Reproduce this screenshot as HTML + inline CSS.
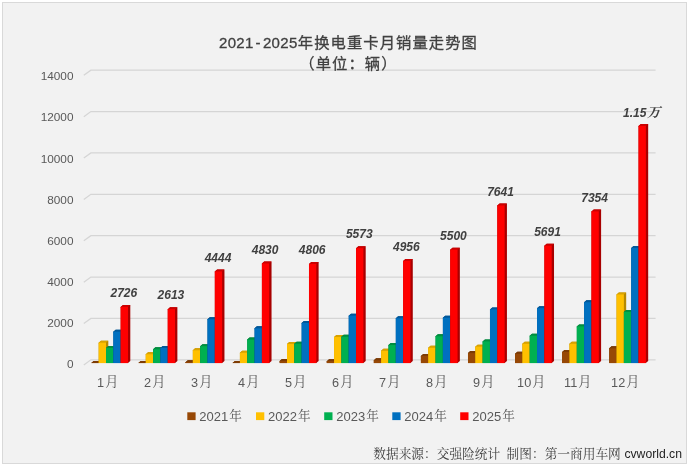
<!DOCTYPE html>
<html lang="zh"><head><meta charset="utf-8"><title>2021-2025年换电重卡月销量走势图</title>
<style>
html,body{margin:0;padding:0;background:#fff;}
svg{display:block;}
text{font-family:"Liberation Sans","Noto Sans CJK SC",sans-serif;}
.ax{font-size:11.8px;fill:#595959;}
.dl{font-size:12px;font-weight:bold;font-style:italic;fill:#404040;}
.wan{font-family:"Liberation Serif","Noto Serif CJK SC",serif;font-size:13.3px;}
.cat{font-size:12.7px;fill:#595959;}
.cjk{font-family:"Liberation Serif","Noto Serif CJK SC",serif;font-size:13.2px;}
.title{font-size:15.3px;fill:#404040;letter-spacing:1.07px;stroke:#404040;stroke-width:0.3px;}
.tl{font-size:15px;letter-spacing:0.3px;}
.leg{font-size:13px;fill:#595959;}
.cjk2{font-family:"Liberation Serif","Noto Serif CJK SC",serif;font-size:12.6px;}
.foot{font-family:"Liberation Serif","Noto Serif CJK SC",serif;font-size:12.7px;fill:#404040;}
.cv{font-family:"Liberation Sans",sans-serif;font-size:12.2px;fill:#1f1f1f;}
</style></head><body>
<svg width="689" height="466" viewBox="0 0 689 466">
<rect x="0" y="0" width="689" height="466" fill="#ffffff"/>
<rect x="2.5" y="2.5" width="684" height="461" fill="#f2f2f2" stroke="#d9d9d9" stroke-width="1"/>
<polyline points="83.8,364.90 90.9,359.80 655.6,359.80" fill="none" stroke="#d5d5d5" stroke-width="1.25"/>
<text x="73.5" y="368.38" text-anchor="end" class="ax">0</text>
<polyline points="83.8,323.53 90.9,318.43 655.6,318.43" fill="none" stroke="#d5d5d5" stroke-width="1.25"/>
<text x="73.5" y="327.23" text-anchor="end" class="ax">2000</text>
<polyline points="83.8,282.16 90.9,277.06 655.6,277.06" fill="none" stroke="#d5d5d5" stroke-width="1.25"/>
<text x="73.5" y="286.07" text-anchor="end" class="ax">4000</text>
<polyline points="83.8,240.79 90.9,235.69 655.6,235.69" fill="none" stroke="#d5d5d5" stroke-width="1.25"/>
<text x="73.5" y="244.92" text-anchor="end" class="ax">6000</text>
<polyline points="83.8,199.42 90.9,194.32 655.6,194.32" fill="none" stroke="#d5d5d5" stroke-width="1.25"/>
<text x="73.5" y="203.77" text-anchor="end" class="ax">8000</text>
<polyline points="83.8,158.05 90.9,152.95 655.6,152.95" fill="none" stroke="#d5d5d5" stroke-width="1.25"/>
<text x="73.5" y="162.62" text-anchor="end" class="ax">10000</text>
<polyline points="83.8,116.68 90.9,111.58 655.6,111.58" fill="none" stroke="#d5d5d5" stroke-width="1.25"/>
<text x="73.5" y="121.46" text-anchor="end" class="ax">12000</text>
<polyline points="83.8,75.31 90.9,70.21 655.6,70.21" fill="none" stroke="#d5d5d5" stroke-width="1.25"/>
<text x="73.5" y="80.31" text-anchor="end" class="ax">14000</text>
<polygon points="91.35,363.10 91.35,362.89 93.65,360.89 100.98,360.89 100.98,361.10 98.68,363.10" fill="#6b3304"/>
<polygon points="91.35,363.10 91.35,362.89 93.65,360.89 100.98,360.89 98.68,362.89 98.68,363.10" fill="#7c3b05"/>
<rect x="91.35" y="362.89" width="7.33" height="0.21" fill="#974806"/>
<polygon points="98.68,363.10 98.68,342.72 100.98,340.72 108.31,340.72 108.31,361.10 106.01,363.10" fill="#b58800"/>
<polygon points="98.68,343.52 98.68,342.72 100.98,340.72 108.31,340.72 106.01,342.72 106.01,343.52" fill="#d9a300"/>
<rect x="98.68" y="342.72" width="7.33" height="20.38" fill="#ffc000"/>
<polygon points="106.01,363.10 106.01,347.94 108.31,345.94 115.64,345.94 115.64,361.10 113.34,363.10" fill="#007d39"/>
<polygon points="106.01,348.74 106.01,347.94 108.31,345.94 115.64,345.94 113.34,347.94 113.34,348.74" fill="#008e40"/>
<rect x="106.01" y="347.94" width="7.33" height="15.16" fill="#00b050"/>
<polygon points="113.34,363.10 113.34,331.69 115.64,329.69 122.97,329.69 122.97,361.10 120.67,363.10" fill="#004f88"/>
<polygon points="113.34,332.49 113.34,331.69 115.64,329.69 122.97,329.69 120.67,331.69 120.67,332.49" fill="#00589a"/>
<rect x="113.34" y="331.69" width="7.33" height="31.41" fill="#0070c0"/>
<polygon points="120.67,363.10 120.67,306.88 122.97,304.88 130.30,304.88 130.30,361.10 128.00,363.10" fill="#a80000"/>
<polygon points="120.67,307.68 120.67,306.88 122.97,304.88 130.30,304.88 128.00,306.88 128.00,307.68" fill="#cc0000"/>
<rect x="120.67" y="306.88" width="7.33" height="56.22" fill="#ff0000"/>
<text x="123.83" y="297.08" text-anchor="middle" class="dl">2726</text>
<text x="97.10" y="387" class="cat">1<tspan class="cjk" dx="1.0" dy="-1.3">月</tspan></text>
<polygon points="138.43,363.10 138.43,362.89 140.73,360.89 148.06,360.89 148.06,361.10 145.76,363.10" fill="#6b3304"/>
<polygon points="138.43,363.10 138.43,362.89 140.73,360.89 148.06,360.89 145.76,362.89 145.76,363.10" fill="#7c3b05"/>
<rect x="138.43" y="362.89" width="7.33" height="0.21" fill="#974806"/>
<polygon points="145.76,363.10 145.76,354.27 148.06,352.27 155.39,352.27 155.39,361.10 153.09,363.10" fill="#b58800"/>
<polygon points="145.76,355.07 145.76,354.27 148.06,352.27 155.39,352.27 153.09,354.27 153.09,355.07" fill="#d9a300"/>
<rect x="145.76" y="354.27" width="7.33" height="8.83" fill="#ffc000"/>
<polygon points="153.09,363.10 153.09,349.34 155.39,347.34 162.72,347.34 162.72,361.10 160.42,363.10" fill="#007d39"/>
<polygon points="153.09,350.14 153.09,349.34 155.39,347.34 162.72,347.34 160.42,349.34 160.42,350.14" fill="#008e40"/>
<rect x="153.09" y="349.34" width="7.33" height="13.76" fill="#00b050"/>
<polygon points="160.42,363.10 160.42,347.94 162.72,345.94 170.05,345.94 170.05,361.10 167.75,363.10" fill="#004f88"/>
<polygon points="160.42,348.74 160.42,347.94 162.72,345.94 170.05,345.94 167.75,347.94 167.75,348.74" fill="#00589a"/>
<rect x="160.42" y="347.94" width="7.33" height="15.16" fill="#0070c0"/>
<polygon points="167.75,363.10 167.75,309.21 170.05,307.21 177.38,307.21 177.38,361.10 175.08,363.10" fill="#a80000"/>
<polygon points="167.75,310.01 167.75,309.21 170.05,307.21 177.38,307.21 175.08,309.21 175.08,310.01" fill="#cc0000"/>
<rect x="167.75" y="309.21" width="7.33" height="53.89" fill="#ff0000"/>
<text x="170.92" y="299.41" text-anchor="middle" class="dl">2613</text>
<text x="144.10" y="387" class="cat">2<tspan class="cjk" dx="1.0" dy="-1.3">月</tspan></text>
<polygon points="185.51,363.10 185.51,362.17 187.81,360.17 195.14,360.17 195.14,361.10 192.84,363.10" fill="#6b3304"/>
<polygon points="185.51,362.97 185.51,362.17 187.81,360.17 195.14,360.17 192.84,362.17 192.84,362.97" fill="#7c3b05"/>
<rect x="185.51" y="362.17" width="7.33" height="0.93" fill="#974806"/>
<polygon points="192.84,363.10 192.84,350.31 195.14,348.31 202.47,348.31 202.47,361.10 200.17,363.10" fill="#b58800"/>
<polygon points="192.84,351.11 192.84,350.31 195.14,348.31 202.47,348.31 200.17,350.31 200.17,351.11" fill="#d9a300"/>
<rect x="192.84" y="350.31" width="7.33" height="12.79" fill="#ffc000"/>
<polygon points="200.17,363.10 200.17,346.19 202.47,344.19 209.80,344.19 209.80,361.10 207.50,363.10" fill="#007d39"/>
<polygon points="200.17,346.99 200.17,346.19 202.47,344.19 209.80,344.19 207.50,346.19 207.50,346.99" fill="#008e40"/>
<rect x="200.17" y="346.19" width="7.33" height="16.91" fill="#00b050"/>
<polygon points="207.50,363.10 207.50,319.25 209.80,317.25 217.13,317.25 217.13,361.10 214.83,363.10" fill="#004f88"/>
<polygon points="207.50,320.05 207.50,319.25 209.80,317.25 217.13,317.25 214.83,319.25 214.83,320.05" fill="#00589a"/>
<rect x="207.50" y="319.25" width="7.33" height="43.85" fill="#0070c0"/>
<polygon points="214.83,363.10 214.83,271.44 217.13,269.44 224.46,269.44 224.46,361.10 222.16,363.10" fill="#a80000"/>
<polygon points="214.83,272.24 214.83,271.44 217.13,269.44 224.46,269.44 222.16,271.44 222.16,272.24" fill="#cc0000"/>
<rect x="214.83" y="271.44" width="7.33" height="91.66" fill="#ff0000"/>
<text x="218.00" y="261.64" text-anchor="middle" class="dl">4444</text>
<text x="191.10" y="387" class="cat">3<tspan class="cjk" dx="1.0" dy="-1.3">月</tspan></text>
<polygon points="232.59,363.10 232.59,362.89 234.89,360.89 242.22,360.89 242.22,361.10 239.92,363.10" fill="#6b3304"/>
<polygon points="232.59,363.10 232.59,362.89 234.89,360.89 242.22,360.89 239.92,362.89 239.92,363.10" fill="#7c3b05"/>
<rect x="232.59" y="362.89" width="7.33" height="0.21" fill="#974806"/>
<polygon points="239.92,363.10 239.92,352.79 242.22,350.79 249.55,350.79 249.55,361.10 247.25,363.10" fill="#b58800"/>
<polygon points="239.92,353.59 239.92,352.79 242.22,350.79 249.55,350.79 247.25,352.79 247.25,353.59" fill="#d9a300"/>
<rect x="239.92" y="352.79" width="7.33" height="10.31" fill="#ffc000"/>
<polygon points="247.25,363.10 247.25,339.59 249.55,337.59 256.88,337.59 256.88,361.10 254.58,363.10" fill="#007d39"/>
<polygon points="247.25,340.39 247.25,339.59 249.55,337.59 256.88,337.59 254.58,339.59 254.58,340.39" fill="#008e40"/>
<rect x="247.25" y="339.59" width="7.33" height="23.51" fill="#00b050"/>
<polygon points="254.58,363.10 254.58,328.35 256.88,326.35 264.21,326.35 264.21,361.10 261.91,363.10" fill="#004f88"/>
<polygon points="254.58,329.15 254.58,328.35 256.88,326.35 264.21,326.35 261.91,328.35 261.91,329.15" fill="#00589a"/>
<rect x="254.58" y="328.35" width="7.33" height="34.75" fill="#0070c0"/>
<polygon points="261.91,363.10 261.91,263.48 264.21,261.48 271.54,261.48 271.54,361.10 269.24,363.10" fill="#a80000"/>
<polygon points="261.91,264.28 261.91,263.48 264.21,261.48 271.54,261.48 269.24,263.48 269.24,264.28" fill="#cc0000"/>
<rect x="261.91" y="263.48" width="7.33" height="99.62" fill="#ff0000"/>
<text x="265.07" y="253.68" text-anchor="middle" class="dl">4830</text>
<text x="238.10" y="387" class="cat">4<tspan class="cjk" dx="1.0" dy="-1.3">月</tspan></text>
<polygon points="279.67,363.10 279.67,361.04 281.97,359.04 289.30,359.04 289.30,361.10 287.00,363.10" fill="#6b3304"/>
<polygon points="279.67,361.84 279.67,361.04 281.97,359.04 289.30,359.04 287.00,361.04 287.00,361.84" fill="#7c3b05"/>
<rect x="279.67" y="361.04" width="7.33" height="2.06" fill="#974806"/>
<polygon points="287.00,363.10 287.00,344.04 289.30,342.04 296.63,342.04 296.63,361.10 294.33,363.10" fill="#b58800"/>
<polygon points="287.00,344.84 287.00,344.04 289.30,342.04 296.63,342.04 294.33,344.04 294.33,344.84" fill="#d9a300"/>
<rect x="287.00" y="344.04" width="7.33" height="19.06" fill="#ffc000"/>
<polygon points="294.33,363.10 294.33,343.73 296.63,341.73 303.96,341.73 303.96,361.10 301.66,363.10" fill="#007d39"/>
<polygon points="294.33,344.53 294.33,343.73 296.63,341.73 303.96,341.73 301.66,343.73 301.66,344.53" fill="#008e40"/>
<rect x="294.33" y="343.73" width="7.33" height="19.37" fill="#00b050"/>
<polygon points="301.66,363.10 301.66,322.98 303.96,320.98 311.29,320.98 311.29,361.10 308.99,363.10" fill="#004f88"/>
<polygon points="301.66,323.78 301.66,322.98 303.96,320.98 311.29,320.98 308.99,322.98 308.99,323.78" fill="#00589a"/>
<rect x="301.66" y="322.98" width="7.33" height="40.12" fill="#0070c0"/>
<polygon points="308.99,363.10 308.99,263.98 311.29,261.98 318.62,261.98 318.62,361.10 316.32,363.10" fill="#a80000"/>
<polygon points="308.99,264.78 308.99,263.98 311.29,261.98 318.62,261.98 316.32,263.98 316.32,264.78" fill="#cc0000"/>
<rect x="308.99" y="263.98" width="7.33" height="99.12" fill="#ff0000"/>
<text x="312.15" y="254.18" text-anchor="middle" class="dl">4806</text>
<text x="285.10" y="387" class="cat">5<tspan class="cjk" dx="1.0" dy="-1.3">月</tspan></text>
<polygon points="326.75,363.10 326.75,361.14 329.05,359.14 336.38,359.14 336.38,361.10 334.08,363.10" fill="#6b3304"/>
<polygon points="326.75,361.94 326.75,361.14 329.05,359.14 336.38,359.14 334.08,361.14 334.08,361.94" fill="#7c3b05"/>
<rect x="326.75" y="361.14" width="7.33" height="1.96" fill="#974806"/>
<polygon points="334.08,363.10 334.08,337.01 336.38,335.01 343.71,335.01 343.71,361.10 341.41,363.10" fill="#b58800"/>
<polygon points="334.08,337.81 334.08,337.01 336.38,335.01 343.71,335.01 341.41,337.01 341.41,337.81" fill="#d9a300"/>
<rect x="334.08" y="337.01" width="7.33" height="26.09" fill="#ffc000"/>
<polygon points="341.41,363.10 341.41,336.76 343.71,334.76 351.04,334.76 351.04,361.10 348.74,363.10" fill="#007d39"/>
<polygon points="341.41,337.56 341.41,336.76 343.71,334.76 351.04,334.76 348.74,336.76 348.74,337.56" fill="#008e40"/>
<rect x="341.41" y="336.76" width="7.33" height="26.34" fill="#00b050"/>
<polygon points="348.74,363.10 348.74,315.66 351.04,313.66 358.37,313.66 358.37,361.10 356.07,363.10" fill="#004f88"/>
<polygon points="348.74,316.46 348.74,315.66 351.04,313.66 358.37,313.66 356.07,315.66 356.07,316.46" fill="#00589a"/>
<rect x="348.74" y="315.66" width="7.33" height="47.44" fill="#0070c0"/>
<polygon points="356.07,363.10 356.07,248.16 358.37,246.16 365.70,246.16 365.70,361.10 363.40,363.10" fill="#a80000"/>
<polygon points="356.07,248.96 356.07,248.16 358.37,246.16 365.70,246.16 363.40,248.16 363.40,248.96" fill="#cc0000"/>
<rect x="356.07" y="248.16" width="7.33" height="114.94" fill="#ff0000"/>
<text x="359.24" y="238.36" text-anchor="middle" class="dl">5573</text>
<text x="332.10" y="387" class="cat">6<tspan class="cjk" dx="1.0" dy="-1.3">月</tspan></text>
<polygon points="373.83,363.10 373.83,360.32 376.13,358.32 383.46,358.32 383.46,361.10 381.16,363.10" fill="#6b3304"/>
<polygon points="373.83,361.12 373.83,360.32 376.13,358.32 383.46,358.32 381.16,360.32 381.16,361.12" fill="#7c3b05"/>
<rect x="373.83" y="360.32" width="7.33" height="2.78" fill="#974806"/>
<polygon points="381.16,363.10 381.16,350.87 383.46,348.87 390.79,348.87 390.79,361.10 388.49,363.10" fill="#b58800"/>
<polygon points="381.16,351.67 381.16,350.87 383.46,348.87 390.79,348.87 388.49,350.87 388.49,351.67" fill="#d9a300"/>
<rect x="381.16" y="350.87" width="7.33" height="12.23" fill="#ffc000"/>
<polygon points="388.49,363.10 388.49,345.03 390.79,343.03 398.12,343.03 398.12,361.10 395.82,363.10" fill="#007d39"/>
<polygon points="388.49,345.83 388.49,345.03 390.79,343.03 398.12,343.03 395.82,345.03 395.82,345.83" fill="#008e40"/>
<rect x="388.49" y="345.03" width="7.33" height="18.07" fill="#00b050"/>
<polygon points="395.82,363.10 395.82,318.24 398.12,316.24 405.45,316.24 405.45,361.10 403.15,363.10" fill="#004f88"/>
<polygon points="395.82,319.04 395.82,318.24 398.12,316.24 405.45,316.24 403.15,318.24 403.15,319.04" fill="#00589a"/>
<rect x="395.82" y="318.24" width="7.33" height="44.86" fill="#0070c0"/>
<polygon points="403.15,363.10 403.15,260.88 405.45,258.88 412.78,258.88 412.78,361.10 410.48,363.10" fill="#a80000"/>
<polygon points="403.15,261.68 403.15,260.88 405.45,258.88 412.78,258.88 410.48,260.88 410.48,261.68" fill="#cc0000"/>
<rect x="403.15" y="260.88" width="7.33" height="102.22" fill="#ff0000"/>
<text x="406.32" y="251.08" text-anchor="middle" class="dl">4956</text>
<text x="379.10" y="387" class="cat">7<tspan class="cjk" dx="1.0" dy="-1.3">月</tspan></text>
<polygon points="420.91,363.10 420.91,355.88 423.21,353.88 430.54,353.88 430.54,361.10 428.24,363.10" fill="#6b3304"/>
<polygon points="420.91,356.68 420.91,355.88 423.21,353.88 430.54,353.88 428.24,355.88 428.24,356.68" fill="#7c3b05"/>
<rect x="420.91" y="355.88" width="7.33" height="7.22" fill="#974806"/>
<polygon points="428.24,363.10 428.24,347.84 430.54,345.84 437.87,345.84 437.87,361.10 435.57,363.10" fill="#b58800"/>
<polygon points="428.24,348.64 428.24,347.84 430.54,345.84 437.87,345.84 435.57,347.84 435.57,348.64" fill="#d9a300"/>
<rect x="428.24" y="347.84" width="7.33" height="15.26" fill="#ffc000"/>
<polygon points="435.57,363.10 435.57,336.29 437.87,334.29 445.20,334.29 445.20,361.10 442.90,363.10" fill="#007d39"/>
<polygon points="435.57,337.09 435.57,336.29 437.87,334.29 445.20,334.29 442.90,336.29 442.90,337.09" fill="#008e40"/>
<rect x="435.57" y="336.29" width="7.33" height="26.81" fill="#00b050"/>
<polygon points="442.90,363.10 442.90,317.77 445.20,315.77 452.53,315.77 452.53,361.10 450.23,363.10" fill="#004f88"/>
<polygon points="442.90,318.57 442.90,317.77 445.20,315.77 452.53,315.77 450.23,317.77 450.23,318.57" fill="#00589a"/>
<rect x="442.90" y="317.77" width="7.33" height="45.33" fill="#0070c0"/>
<polygon points="450.23,363.10 450.23,249.66 452.53,247.66 459.86,247.66 459.86,361.10 457.56,363.10" fill="#a80000"/>
<polygon points="450.23,250.46 450.23,249.66 452.53,247.66 459.86,247.66 457.56,249.66 457.56,250.46" fill="#cc0000"/>
<rect x="450.23" y="249.66" width="7.33" height="113.44" fill="#ff0000"/>
<text x="453.39" y="239.86" text-anchor="middle" class="dl">5500</text>
<text x="426.10" y="387" class="cat">8<tspan class="cjk" dx="1.0" dy="-1.3">月</tspan></text>
<polygon points="467.99,363.10 467.99,353.06 470.29,351.06 477.62,351.06 477.62,361.10 475.32,363.10" fill="#6b3304"/>
<polygon points="467.99,353.86 467.99,353.06 470.29,351.06 477.62,351.06 475.32,353.06 475.32,353.86" fill="#7c3b05"/>
<rect x="467.99" y="353.06" width="7.33" height="10.04" fill="#974806"/>
<polygon points="475.32,363.10 475.32,346.64 477.62,344.64 484.95,344.64 484.95,361.10 482.65,363.10" fill="#b58800"/>
<polygon points="475.32,347.44 475.32,346.64 477.62,344.64 484.95,344.64 482.65,346.64 482.65,347.44" fill="#d9a300"/>
<rect x="475.32" y="346.64" width="7.33" height="16.46" fill="#ffc000"/>
<polygon points="482.65,363.10 482.65,341.44 484.95,339.44 492.28,339.44 492.28,361.10 489.98,363.10" fill="#007d39"/>
<polygon points="482.65,342.24 482.65,341.44 484.95,339.44 492.28,339.44 489.98,341.44 489.98,342.24" fill="#008e40"/>
<rect x="482.65" y="341.44" width="7.33" height="21.66" fill="#00b050"/>
<polygon points="489.98,363.10 489.98,309.39 492.28,307.39 499.61,307.39 499.61,361.10 497.31,363.10" fill="#004f88"/>
<polygon points="489.98,310.19 489.98,309.39 492.28,307.39 499.61,307.39 497.31,309.39 497.31,310.19" fill="#00589a"/>
<rect x="489.98" y="309.39" width="7.33" height="53.71" fill="#0070c0"/>
<polygon points="497.31,363.10 497.31,205.50 499.61,203.50 506.94,203.50 506.94,361.10 504.64,363.10" fill="#a80000"/>
<polygon points="497.31,206.30 497.31,205.50 499.61,203.50 506.94,203.50 504.64,205.50 504.64,206.30" fill="#cc0000"/>
<rect x="497.31" y="205.50" width="7.33" height="157.60" fill="#ff0000"/>
<text x="500.48" y="195.70" text-anchor="middle" class="dl">7641</text>
<text x="473.10" y="387" class="cat">9<tspan class="cjk" dx="1.0" dy="-1.3">月</tspan></text>
<polygon points="515.07,363.10 515.07,353.86 517.37,351.86 524.70,351.86 524.70,361.10 522.40,363.10" fill="#6b3304"/>
<polygon points="515.07,354.66 515.07,353.86 517.37,351.86 524.70,351.86 522.40,353.86 522.40,354.66" fill="#7c3b05"/>
<rect x="515.07" y="353.86" width="7.33" height="9.24" fill="#974806"/>
<polygon points="522.40,363.10 522.40,343.84 524.70,341.84 532.03,341.84 532.03,361.10 529.73,363.10" fill="#b58800"/>
<polygon points="522.40,344.64 522.40,343.84 524.70,341.84 532.03,341.84 529.73,343.84 529.73,344.64" fill="#d9a300"/>
<rect x="522.40" y="343.84" width="7.33" height="19.26" fill="#ffc000"/>
<polygon points="529.73,363.10 529.73,335.71 532.03,333.71 539.36,333.71 539.36,361.10 537.06,363.10" fill="#007d39"/>
<polygon points="529.73,336.51 529.73,335.71 532.03,333.71 539.36,333.71 537.06,335.71 537.06,336.51" fill="#008e40"/>
<rect x="529.73" y="335.71" width="7.33" height="27.39" fill="#00b050"/>
<polygon points="537.06,363.10 537.06,308.20 539.36,306.20 546.69,306.20 546.69,361.10 544.39,363.10" fill="#004f88"/>
<polygon points="537.06,309.00 537.06,308.20 539.36,306.20 546.69,306.20 544.39,308.20 544.39,309.00" fill="#00589a"/>
<rect x="537.06" y="308.20" width="7.33" height="54.90" fill="#0070c0"/>
<polygon points="544.39,363.10 544.39,245.72 546.69,243.72 554.02,243.72 554.02,361.10 551.72,363.10" fill="#a80000"/>
<polygon points="544.39,246.52 544.39,245.72 546.69,243.72 554.02,243.72 551.72,245.72 551.72,246.52" fill="#cc0000"/>
<rect x="544.39" y="245.72" width="7.33" height="117.38" fill="#ff0000"/>
<text x="547.55" y="235.92" text-anchor="middle" class="dl">5691</text>
<text x="517.10" y="387" class="cat">10<tspan class="cjk" dx="1.0" dy="-1.3">月</tspan></text>
<polygon points="562.15,363.10 562.15,351.96 564.45,349.96 571.78,349.96 571.78,361.10 569.48,363.10" fill="#6b3304"/>
<polygon points="562.15,352.76 562.15,351.96 564.45,349.96 571.78,349.96 569.48,351.96 569.48,352.76" fill="#7c3b05"/>
<rect x="562.15" y="351.96" width="7.33" height="11.14" fill="#974806"/>
<polygon points="569.48,363.10 569.48,343.84 571.78,341.84 579.11,341.84 579.11,361.10 576.81,363.10" fill="#b58800"/>
<polygon points="569.48,344.64 569.48,343.84 571.78,341.84 579.11,341.84 576.81,343.84 576.81,344.64" fill="#d9a300"/>
<rect x="569.48" y="343.84" width="7.33" height="19.26" fill="#ffc000"/>
<polygon points="576.81,363.10 576.81,326.39 579.11,324.39 586.44,324.39 586.44,361.10 584.14,363.10" fill="#007d39"/>
<polygon points="576.81,327.19 576.81,326.39 579.11,324.39 586.44,324.39 584.14,326.39 584.14,327.19" fill="#008e40"/>
<rect x="576.81" y="326.39" width="7.33" height="36.71" fill="#00b050"/>
<polygon points="584.14,363.10 584.14,302.26 586.44,300.26 593.77,300.26 593.77,361.10 591.47,363.10" fill="#004f88"/>
<polygon points="584.14,303.06 584.14,302.26 586.44,300.26 593.77,300.26 591.47,302.26 591.47,303.06" fill="#00589a"/>
<rect x="584.14" y="302.26" width="7.33" height="60.84" fill="#0070c0"/>
<polygon points="591.47,363.10 591.47,211.42 593.77,209.42 601.10,209.42 601.10,361.10 598.80,363.10" fill="#a80000"/>
<polygon points="591.47,212.22 591.47,211.42 593.77,209.42 601.10,209.42 598.80,211.42 598.80,212.22" fill="#cc0000"/>
<rect x="591.47" y="211.42" width="7.33" height="151.68" fill="#ff0000"/>
<text x="594.63" y="201.62" text-anchor="middle" class="dl">7354</text>
<text x="564.10" y="387" class="cat">11<tspan class="cjk" dx="1.0" dy="-1.3">月</tspan></text>
<polygon points="609.23,363.10 609.23,348.35 611.53,346.35 618.86,346.35 618.86,361.10 616.56,363.10" fill="#6b3304"/>
<polygon points="609.23,349.15 609.23,348.35 611.53,346.35 618.86,346.35 616.56,348.35 616.56,349.15" fill="#7c3b05"/>
<rect x="609.23" y="348.35" width="7.33" height="14.75" fill="#974806"/>
<polygon points="616.56,363.10 616.56,294.48 618.86,292.48 626.19,292.48 626.19,361.10 623.89,363.10" fill="#b58800"/>
<polygon points="616.56,295.28 616.56,294.48 618.86,292.48 626.19,292.48 623.89,294.48 623.89,295.28" fill="#d9a300"/>
<rect x="616.56" y="294.48" width="7.33" height="68.62" fill="#ffc000"/>
<polygon points="623.89,363.10 623.89,311.91 626.19,309.91 633.52,309.91 633.52,361.10 631.22,363.10" fill="#007d39"/>
<polygon points="623.89,312.71 623.89,311.91 626.19,309.91 633.52,309.91 631.22,311.91 631.22,312.71" fill="#008e40"/>
<rect x="623.89" y="311.91" width="7.33" height="51.19" fill="#00b050"/>
<polygon points="631.22,363.10 631.22,248.01 633.52,246.01 640.85,246.01 640.85,361.10 638.55,363.10" fill="#004f88"/>
<polygon points="631.22,248.81 631.22,248.01 633.52,246.01 640.85,246.01 638.55,248.01 638.55,248.81" fill="#00589a"/>
<rect x="631.22" y="248.01" width="7.33" height="115.09" fill="#0070c0"/>
<polygon points="638.55,363.10 638.55,125.91 640.85,123.91 648.18,123.91 648.18,361.10 645.88,363.10" fill="#a80000"/>
<polygon points="638.55,126.71 638.55,125.91 640.85,123.91 648.18,123.91 645.88,125.91 645.88,126.71" fill="#cc0000"/>
<rect x="638.55" y="125.91" width="7.33" height="237.19" fill="#ff0000"/>
<text x="641.72" y="116.51" text-anchor="middle" class="dl">1.15<tspan class="wan" dx="0.6" dy="0.7">万</tspan></text>
<text x="611.10" y="387" class="cat">12<tspan class="cjk" dx="1.0" dy="-1.3">月</tspan></text>
<text x="219" y="48" class="title"><tspan class="tl">2021<tspan dx="1.9">-</tspan><tspan dx="2.2">2025</tspan></tspan><tspan dx="0.3">年</tspan>换电重卡月销量走势图</text>
<text x="299.3" y="69.2" class="title">（单位：辆）</text>
<rect x="187.30" y="412.3" width="8.3" height="7.8" fill="#974806"/>
<text x="199.30" y="420.6" class="leg">2021<tspan class="cjk2" dx="1.1" dy="-0.4">年</tspan></text>
<rect x="256.00" y="412.3" width="8.3" height="7.8" fill="#ffc000"/>
<text x="268.00" y="420.6" class="leg">2022<tspan class="cjk2" dx="1.1" dy="-0.4">年</tspan></text>
<rect x="324.20" y="412.3" width="8.3" height="7.8" fill="#00b050"/>
<text x="336.20" y="420.6" class="leg">2023<tspan class="cjk2" dx="1.1" dy="-0.4">年</tspan></text>
<rect x="392.30" y="412.3" width="8.3" height="7.8" fill="#0070c0"/>
<text x="404.30" y="420.6" class="leg">2024<tspan class="cjk2" dx="1.1" dy="-0.4">年</tspan></text>
<rect x="460.20" y="412.3" width="8.3" height="7.8" fill="#ff0000"/>
<text x="472.20" y="420.6" class="leg">2025<tspan class="cjk2" dx="1.1" dy="-0.4">年</tspan></text>
<text x="373.3" y="458" class="foot">数据来源：交强险统计 <tspan x="506.6">制图：第一商用车网</tspan> <tspan class="cv" x="624.4">cvworld.cn</tspan></text>
</svg>
</body></html>
